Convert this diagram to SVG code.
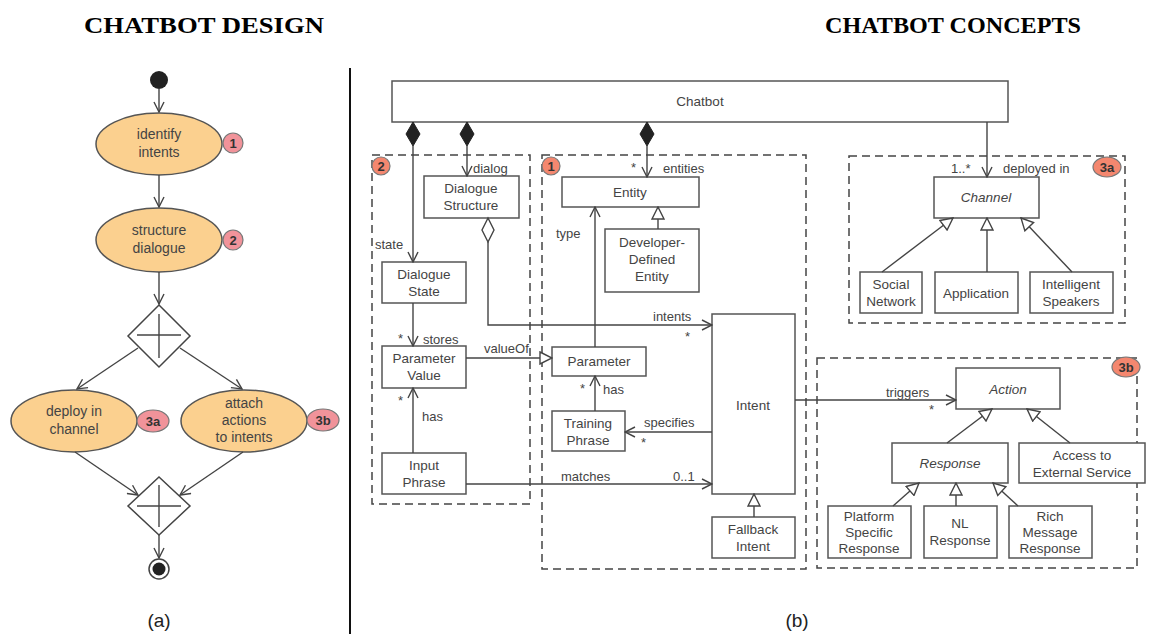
<svg xmlns="http://www.w3.org/2000/svg" width="1158" height="634" viewBox="0 0 1158 634">
<style>
.title{font-family:"Liberation Serif","Times New Roman",serif;font-weight:bold;font-size:23px;fill:#000;text-anchor:middle}
.cap{font-family:"Liberation Sans",Arial,sans-serif;font-size:19px;fill:#222;text-anchor:middle}
.t{font-family:"Liberation Sans",Arial,sans-serif;font-size:13.5px;fill:#444;text-anchor:middle}
.ti{font-family:"Liberation Sans",Arial,sans-serif;font-size:13.5px;fill:#444;text-anchor:middle;font-style:italic}
.lbl{font-family:"Liberation Sans",Arial,sans-serif;font-size:13px;fill:#444}
.et{font-family:"Liberation Sans",Arial,sans-serif;font-size:14px;fill:#444;text-anchor:middle}
.bt{font-family:"Liberation Sans",Arial,sans-serif;font-size:13px;fill:#333;text-anchor:middle;font-weight:bold}
.box{fill:#fff;stroke:#555;stroke-width:1.5}
.ell{fill:#fbd08f;stroke:#555;stroke-width:1.5}
.dash{fill:none;stroke:#444;stroke-width:1.5;stroke-dasharray:8 5}
.ln{fill:none;stroke:#444;stroke-width:1.4}
.bl{fill:#f1939a;stroke:#777;stroke-width:1.2}
.br{fill:#f4876f;stroke:#777;stroke-width:1.2}
</style>
<defs>
<marker id="open" viewBox="0 0 12 12" refX="11" refY="6" markerWidth="12" markerHeight="12" markerUnits="userSpaceOnUse" orient="auto">
<path d="M1,1 L11,6 L1,11" fill="none" stroke="#444" stroke-width="1.4"/>
</marker>
<marker id="tri" viewBox="0 0 14 14" refX="13" refY="7" markerWidth="14" markerHeight="14" markerUnits="userSpaceOnUse" orient="auto">
<path d="M1,1 L13,7 L1,13 z" fill="#fff" stroke="#444" stroke-width="1.4"/>
</marker>
</defs>
<rect width="1158" height="634" fill="#fff"/>
<text class="title" x="204" y="33" textLength="240" lengthAdjust="spacingAndGlyphs">CHATBOT DESIGN</text>
<text class="title" x="953" y="33" textLength="256" lengthAdjust="spacingAndGlyphs">CHATBOT CONCEPTS</text>
<line x1="350" y1="68" x2="350" y2="634" stroke="#111" stroke-width="2"/>

<!-- Left panel: activity diagram -->
<g id="start"><circle cx="159" cy="80" r="9" fill="#222"/></g>
<g id="identify"><ellipse class="ell" cx="159" cy="144" rx="63" ry="31"/><text class="et" x="159" y="139">identify</text><text class="et" x="159" y="157">intents</text><circle class="bl" cx="233" cy="143" r="10"/><text class="bt" x="233" y="148">1</text></g>
<g id="structure"><ellipse class="ell" cx="159" cy="240" rx="63" ry="32"/><text class="et" x="159" y="235">structure</text><text class="et" x="159" y="253">dialogue</text><circle class="bl" cx="233" cy="240" r="10"/><text class="bt" x="233" y="245">2</text></g>
<g id="fork"><polygon points="159,305 190,336 159,367 128,336" fill="#fff" stroke="#444" stroke-width="1.5"/><line class="ln" x1="137" y1="335" x2="181" y2="335"/><line class="ln" x1="159" y1="314" x2="159" y2="358"/></g>
<g id="deploy"><ellipse class="ell" cx="74" cy="421" rx="63" ry="31"/><text class="et" x="74" y="416">deploy in</text><text class="et" x="74" y="434">channel</text><ellipse class="bl" cx="153" cy="421" rx="16" ry="11"/><text class="bt" x="153" y="426">3a</text></g>
<g id="attach"><ellipse class="ell" cx="244" cy="421" rx="63" ry="31"/><text class="et" x="244" y="408">attach</text><text class="et" x="244" y="425">actions</text><text class="et" x="244" y="442">to intents</text><ellipse class="bl" cx="323" cy="420" rx="16" ry="11"/><text class="bt" x="323" y="425">3b</text></g>
<g id="join"><polygon points="159,477 190,506 159,535 128,506" fill="#fff" stroke="#444" stroke-width="1.5"/><line class="ln" x1="137" y1="506" x2="181" y2="506"/><line class="ln" x1="159" y1="485" x2="159" y2="527"/></g>
<g id="end"><circle cx="159" cy="569" r="10" fill="#fff" stroke="#444" stroke-width="1.5"/><circle cx="159" cy="569" r="6.5" fill="#222"/></g>
<text class="cap" x="159" y="627">(a)</text>
<text class="cap" x="797" y="627">(b)</text>

<g id="flow-connectors">
<line class="ln" x1="159" y1="89" x2="159" y2="112" marker-end="url(#open)"/>
<line class="ln" x1="159" y1="175" x2="159" y2="207" marker-end="url(#open)"/>
<line class="ln" x1="159" y1="272" x2="159" y2="304" marker-end="url(#open)"/>
<line class="ln" x1="138" y1="348" x2="77" y2="389" marker-end="url(#open)"/>
<line class="ln" x1="180" y1="348" x2="242" y2="389" marker-end="url(#open)"/>
<line class="ln" x1="75" y1="452" x2="138" y2="495" marker-end="url(#open)"/>
<line class="ln" x1="243" y1="452" x2="180" y2="495" marker-end="url(#open)"/>
<line class="ln" x1="159" y1="535" x2="159" y2="558" marker-end="url(#open)"/>
</g>

<!-- Right panel: dashed regions -->
<g id="region2"><rect class="dash" x="372" y="155" width="158" height="349"/><circle class="br" cx="381" cy="166" r="9"/><text class="bt" x="381" y="171">2</text></g>
<g id="region1"><rect class="dash" x="542" y="155" width="264" height="414"/><circle class="br" cx="551" cy="166" r="9"/><text class="bt" x="551" y="171">1</text></g>
<g id="region3a"><rect class="dash" x="849" y="156" width="276" height="167"/><ellipse class="br" cx="1107" cy="167" rx="14" ry="10"/><text class="bt" x="1107" y="172">3a</text></g>
<g id="region3b"><rect class="dash" x="817" y="358" width="320" height="210"/><ellipse class="br" cx="1126" cy="367" rx="14" ry="10"/><text class="bt" x="1126" y="372">3b</text></g>

<!-- Nodes -->
<g id="chatbot"><rect class="box" x="392" y="81" width="616" height="41"/><text class="t" x="700" y="106">Chatbot</text></g>
<g id="dialogue-structure"><rect class="box" x="424" y="176" width="95" height="42"/><text class="t" x="471" y="193">Dialogue</text><text class="t" x="471" y="210">Structure</text></g>
<g id="dialogue-state"><rect class="box" x="382" y="262" width="84" height="41"/><text class="t" x="424" y="279">Dialogue</text><text class="t" x="424" y="296">State</text></g>
<g id="parameter-value"><rect class="box" x="382" y="346" width="84" height="42"/><text class="t" x="424" y="363">Parameter</text><text class="t" x="424" y="380">Value</text></g>
<g id="input-phrase"><rect class="box" x="382" y="453" width="84" height="41"/><text class="t" x="424" y="470">Input</text><text class="t" x="424" y="487">Phrase</text></g>
<g id="entity"><rect class="box" x="562" y="177" width="137" height="30"/><text class="t" x="630" y="197">Entity</text></g>
<g id="developer-entity"><rect class="box" x="605" y="229" width="94" height="63"/><text class="t" x="652" y="247">Developer-</text><text class="t" x="652" y="264">Defined</text><text class="t" x="652" y="281">Entity</text></g>
<g id="parameter"><rect class="box" x="552" y="347" width="94" height="29"/><text class="t" x="599" y="366">Parameter</text></g>
<g id="training-phrase"><rect class="box" x="552" y="411" width="73" height="40"/><text class="t" x="588" y="428">Training</text><text class="t" x="588" y="445">Phrase</text></g>
<g id="intent"><rect class="box" x="712" y="314" width="83" height="180"/><text class="t" x="753" y="410">Intent</text></g>
<g id="fallback-intent"><rect class="box" x="712" y="517" width="83" height="41"/><text class="t" x="753" y="534">Fallback</text><text class="t" x="753" y="551">Intent</text></g>
<g id="channel"><rect class="box" x="934" y="177" width="105" height="41"/><text class="ti" x="986" y="202">Channel</text></g>
<g id="social-network"><rect class="box" x="860" y="272" width="62" height="41"/><text class="t" x="891" y="289">Social</text><text class="t" x="891" y="306">Network</text></g>
<g id="application"><rect class="box" x="935" y="272" width="83" height="41"/><text class="t" x="976" y="298">Application</text></g>
<g id="intelligent-speakers"><rect class="box" x="1030" y="272" width="83" height="41"/><text class="t" x="1071" y="289">Intelligent</text><text class="t" x="1071" y="306">Speakers</text></g>
<g id="action"><rect class="box" x="956" y="368" width="104" height="41"/><text class="ti" x="1008" y="394">Action</text></g>
<g id="response"><rect class="box" x="892" y="443" width="116" height="40"/><text class="ti" x="950" y="468">Response</text></g>
<g id="access-external"><rect class="box" x="1019" y="443" width="126" height="40"/><text class="t" x="1082" y="460">Access to</text><text class="t" x="1082" y="477">External Service</text></g>
<g id="platform-response"><rect class="box" x="828" y="506" width="83" height="52"/><text class="t" x="869" y="521">Platform</text><text class="t" x="869" y="537">Specific</text><text class="t" x="869" y="553">Response</text></g>
<g id="nl-response"><rect class="box" x="924" y="506" width="73" height="52"/><text class="t" x="960" y="528">NL</text><text class="t" x="960" y="545">Response</text></g>
<g id="rich-response"><rect class="box" x="1009" y="506" width="83" height="52"/><text class="t" x="1050" y="521">Rich</text><text class="t" x="1050" y="537">Message</text><text class="t" x="1050" y="553">Response</text></g>

<!-- Connectors -->
<g id="connectors">
<polygon points="413,122 420,134 413,146 406,134" fill="#222" stroke="#222"/>
<polygon points="467,122 474,134 467,146 460,134" fill="#222" stroke="#222"/>
<polygon points="647,122 654,134 647,146 640,134" fill="#222" stroke="#222"/>
<line class="ln" x1="413" y1="146" x2="413" y2="262" marker-end="url(#open)"/>
<line class="ln" x1="467" y1="146" x2="467" y2="176" marker-end="url(#open)"/>
<line class="ln" x1="647" y1="146" x2="647" y2="177" marker-end="url(#open)"/>
<line class="ln" x1="987" y1="122" x2="987" y2="177" marker-end="url(#open)"/>
<polygon points="488,218 494,230 488,242 482,230" fill="#fff" stroke="#444" stroke-width="1.4"/>
<polyline class="ln" points="488,242 488,325 712,325" marker-end="url(#open)"/>
<line class="ln" x1="413" y1="303" x2="413" y2="346" marker-end="url(#open)"/>
<line class="ln" x1="466" y1="358" x2="552" y2="358" marker-end="url(#tri)"/>
<line class="ln" x1="413" y1="453" x2="413" y2="388" marker-end="url(#open)"/>
<line class="ln" x1="466" y1="484" x2="712" y2="484" marker-end="url(#open)"/>
<line class="ln" x1="595" y1="347" x2="595" y2="207" marker-end="url(#open)"/>
<line class="ln" x1="658" y1="229" x2="658" y2="207" marker-end="url(#tri)"/>
<line class="ln" x1="595" y1="411" x2="595" y2="376" marker-end="url(#open)"/>
<line class="ln" x1="712" y1="432" x2="625" y2="432" marker-end="url(#open)"/>
<line class="ln" x1="754" y1="517" x2="754" y2="494" marker-end="url(#tri)"/>
<line class="ln" x1="795" y1="400" x2="956" y2="400" marker-end="url(#open)"/>
<line class="ln" x1="882" y1="272" x2="953" y2="218" marker-end="url(#tri)"/>
<line class="ln" x1="987" y1="272" x2="987" y2="218" marker-end="url(#tri)"/>
<line class="ln" x1="1072" y1="272" x2="1021" y2="218" marker-end="url(#tri)"/>
<line class="ln" x1="947" y1="443" x2="992" y2="409" marker-end="url(#tri)"/>
<line class="ln" x1="1070" y1="443" x2="1027" y2="409" marker-end="url(#tri)"/>
<line class="ln" x1="893" y1="506" x2="919" y2="483" marker-end="url(#tri)"/>
<line class="ln" x1="956" y1="506" x2="956" y2="483" marker-end="url(#tri)"/>
<line class="ln" x1="1018" y1="506" x2="993" y2="483" marker-end="url(#tri)"/>
</g>

<g id="labels">
<text class="lbl" x="375" y="249">state</text>
<text class="lbl" x="473" y="173">dialog</text>
<text class="lbl" x="631" y="172">*</text>
<text class="lbl" x="663" y="173">entities</text>
<text class="lbl" x="951" y="173">1..*</text>
<text class="lbl" x="1003" y="173">deployed in</text>
<text class="lbl" x="398" y="343">*</text>
<text class="lbl" x="423" y="344">stores</text>
<text class="lbl" x="484" y="353">valueOf</text>
<text class="lbl" x="398" y="405">*</text>
<text class="lbl" x="422" y="421">has</text>
<text class="lbl" x="556" y="238">type</text>
<text class="lbl" x="653" y="321">intents</text>
<text class="lbl" x="685" y="341">*</text>
<text class="lbl" x="580" y="393">*</text>
<text class="lbl" x="603" y="394">has</text>
<text class="lbl" x="644" y="427">specifies</text>
<text class="lbl" x="641" y="447">*</text>
<text class="lbl" x="561" y="481">matches</text>
<text class="lbl" x="673" y="481">0..1</text>
<text class="lbl" x="886" y="397">triggers</text>
<text class="lbl" x="929" y="414">*</text>
</g>
</svg>
